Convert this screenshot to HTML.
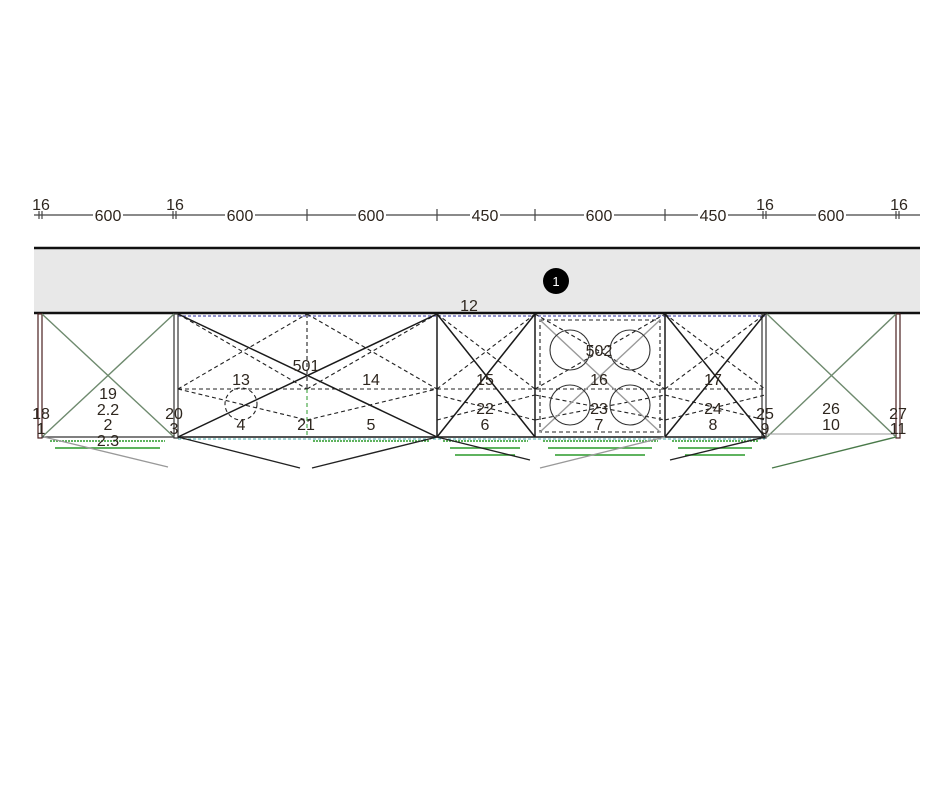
<!DOCTYPE html>
<html><head><meta charset="utf-8"><style>
html,body{margin:0;padding:0;background:#fff;}
svg{display:block;}
text{font-family:"Liberation Sans",sans-serif;font-size:16px;fill:#2e261e;text-anchor:middle;}
</style></head><body>
<svg width="940" height="788" viewBox="0 0 940 788" xmlns="http://www.w3.org/2000/svg">
<line x1="34" y1="215" x2="920" y2="215" stroke="#444" stroke-width="1.2"/>
<g stroke="#444" stroke-width="1.2">
<line x1="39" y1="211" x2="39" y2="219"/><line x1="42" y1="211" x2="42" y2="219"/>
<line x1="173" y1="211" x2="173" y2="219"/><line x1="176" y1="211" x2="176" y2="219"/>
<line x1="307" y1="209" x2="307" y2="221"/><line x1="437" y1="209" x2="437" y2="221"/>
<line x1="535" y1="209" x2="535" y2="221"/><line x1="665" y1="209" x2="665" y2="221"/>
<line x1="763" y1="211" x2="763" y2="219"/><line x1="766" y1="211" x2="766" y2="219"/>
<line x1="896" y1="211" x2="896" y2="219"/><line x1="899" y1="211" x2="899" y2="219"/>
</g>
<g fill="#fff">
<rect x="93" y="207" width="30" height="16"/><rect x="225" y="207" width="30" height="16"/>
<rect x="356" y="207" width="30" height="16"/><rect x="470" y="207" width="30" height="16"/>
<rect x="584" y="207" width="30" height="16"/><rect x="698" y="207" width="30" height="16"/>
<rect x="816" y="207" width="30" height="16"/>
</g>
<text x="41" y="210">16</text><text x="108" y="221">600</text><text x="175" y="210">16</text>
<text x="240" y="221">600</text><text x="371" y="221">600</text><text x="485" y="221">450</text>
<text x="599" y="221">600</text><text x="713" y="221">450</text><text x="765" y="210">16</text>
<text x="831" y="221">600</text><text x="899" y="210">16</text>
<rect x="34" y="248" width="886" height="65" fill="#e8e8e8"/>
<line x1="34" y1="248" x2="920" y2="248" stroke="#111" stroke-width="2.5"/>
<line x1="34" y1="313" x2="920" y2="313" stroke="#111" stroke-width="2.5"/>
<circle cx="556" cy="281" r="13" fill="#000"/>
<text x="556" y="286" style="fill:#fff;font-size:13px">1</text>
<text x="469" y="311">12</text>
<line x1="178" y1="316" x2="765" y2="316" stroke="#7070c0" stroke-width="1.5" stroke-dasharray="3,2"/>
<rect x="38" y="314" width="4" height="124" fill="none" stroke="#4a2020" stroke-width="1.2"/>
<rect x="896" y="314" width="4" height="124" fill="none" stroke="#4a2020" stroke-width="1.2"/>
<rect x="174" y="314" width="4" height="124" fill="none" stroke="#333" stroke-width="1.2"/>
<rect x="762" y="314" width="4" height="124" fill="none" stroke="#333" stroke-width="1.2"/>
<g stroke="#6e8a6e" stroke-width="1.4">
<line x1="42" y1="314" x2="174" y2="437"/><line x1="42" y1="437" x2="174" y2="314"/>
<line x1="767" y1="314" x2="896" y2="437"/><line x1="767" y1="437" x2="896" y2="314"/>
</g>
<line x1="42" y1="437" x2="174" y2="437" stroke="#333" stroke-width="1.2"/>
<line x1="767" y1="434" x2="896" y2="434" stroke="#999" stroke-width="1"/>
<g stroke="#222" stroke-width="1.1" stroke-dasharray="4,3" fill="none">
<line x1="178" y1="389" x2="765" y2="389"/>
<line x1="307" y1="314" x2="307" y2="389"/>
<line x1="178" y1="389" x2="307" y2="314"/><line x1="178" y1="314" x2="307" y2="389"/>
<line x1="307" y1="389" x2="437" y2="314"/><line x1="307" y1="314" x2="437" y2="389"/>
<line x1="437" y1="389" x2="535" y2="314"/><line x1="437" y1="314" x2="535" y2="389"/>
<line x1="535" y1="389" x2="665" y2="314"/><line x1="535" y1="314" x2="665" y2="389"/>
<line x1="665" y1="389" x2="765" y2="314"/><line x1="665" y1="314" x2="765" y2="389"/>
<line x1="178" y1="389" x2="307" y2="420"/><line x1="307" y1="420" x2="437" y2="389"/>
<line x1="437" y1="395" x2="535" y2="420"/><line x1="437" y1="420" x2="535" y2="395"/>
<line x1="535" y1="420" x2="665" y2="395"/><line x1="535" y1="395" x2="665" y2="420"/>
<line x1="665" y1="395" x2="765" y2="420"/><line x1="665" y1="420" x2="765" y2="395"/>
<rect x="540" y="320" width="120" height="112"/>
<circle cx="241" cy="404" r="16"/>
</g>
<line x1="307" y1="389" x2="307" y2="437" stroke="#2a9a2a" stroke-width="1" stroke-dasharray="4,3"/>
<g stroke="#1a1a1a" stroke-width="1.5" fill="none">
<line x1="178" y1="437" x2="765" y2="437"/>
<line x1="437" y1="314" x2="437" y2="437"/><line x1="535" y1="314" x2="535" y2="437"/>
<line x1="665" y1="314" x2="665" y2="437"/>
<line x1="178" y1="314" x2="437" y2="437"/><line x1="178" y1="437" x2="437" y2="314"/>
<line x1="437" y1="314" x2="535" y2="437"/><line x1="437" y1="437" x2="535" y2="314"/>
<line x1="665" y1="314" x2="765" y2="437"/><line x1="665" y1="437" x2="765" y2="314"/>
</g>
<g stroke="#999" stroke-width="1.4">
<line x1="540" y1="320" x2="660" y2="432"/><line x1="540" y1="432" x2="660" y2="320"/>
</g>
<g stroke="#333" stroke-width="1.1" fill="none">
<circle cx="570" cy="350" r="20"/><circle cx="630" cy="350" r="20"/>
<circle cx="570" cy="405" r="20"/><circle cx="630" cy="405" r="20"/>
</g>
<line x1="178" y1="439" x2="765" y2="439" stroke="#4aa" stroke-width="1" stroke-dasharray="3,2"/>
<g stroke="#2a9a2a" stroke-width="1.5">
<line x1="50" y1="441" x2="165" y2="441" stroke-dasharray="2,1"/>
<line x1="55" y1="448" x2="160" y2="448"/>
<line x1="313" y1="441" x2="430" y2="441" stroke-dasharray="2,1"/>
<line x1="443" y1="441" x2="528" y2="441" stroke-dasharray="2,1"/>
<line x1="450" y1="448" x2="520" y2="448"/><line x1="455" y1="455" x2="515" y2="455"/>
<line x1="543" y1="441" x2="658" y2="441" stroke-dasharray="2,1"/>
<line x1="548" y1="448" x2="652" y2="448"/><line x1="555" y1="455" x2="645" y2="455"/>
<line x1="672" y1="441" x2="758" y2="441" stroke-dasharray="2,1"/>
<line x1="678" y1="448" x2="752" y2="448"/><line x1="685" y1="455" x2="745" y2="455"/>
</g>
<g stroke-width="1.4">
<line x1="178" y1="437" x2="300" y2="468" stroke="#222"/>
<line x1="312" y1="468" x2="437" y2="437" stroke="#222"/>
<line x1="437" y1="437" x2="530" y2="460" stroke="#222"/>
<line x1="540" y1="468" x2="665" y2="437" stroke="#999"/>
<line x1="670" y1="460" x2="765" y2="437" stroke="#222"/>
<line x1="772" y1="468" x2="896" y2="437" stroke="#4a7a4a"/>
<line x1="44" y1="437" x2="168" y2="467" stroke="#999"/>
</g>
<text x="306" y="371">501</text><text x="241" y="385">13</text><text x="371" y="385">14</text>
<text x="485" y="385">15</text><text x="599" y="356">502</text><text x="599" y="385">16</text>
<text x="713" y="385">17</text>
<text x="108" y="399">19</text><text x="108" y="415">2.2</text><text x="108" y="430">2</text><text x="108" y="446">2.3</text>
<text x="41" y="419">18</text><text x="41" y="434">1</text>
<text x="174" y="419">20</text><text x="174" y="434">3</text>
<text x="241" y="430">4</text><text x="306" y="430">21</text><text x="371" y="430">5</text>
<text x="485" y="414">22</text><text x="485" y="430">6</text>
<text x="599" y="414">23</text><text x="599" y="430">7</text>
<text x="713" y="414">24</text><text x="713" y="430">8</text>
<text x="765" y="419">25</text><text x="765" y="434">9</text>
<text x="831" y="414">26</text><text x="831" y="430">10</text>
<text x="898" y="419">27</text><text x="898" y="434">11</text>
</svg>
</body></html>
